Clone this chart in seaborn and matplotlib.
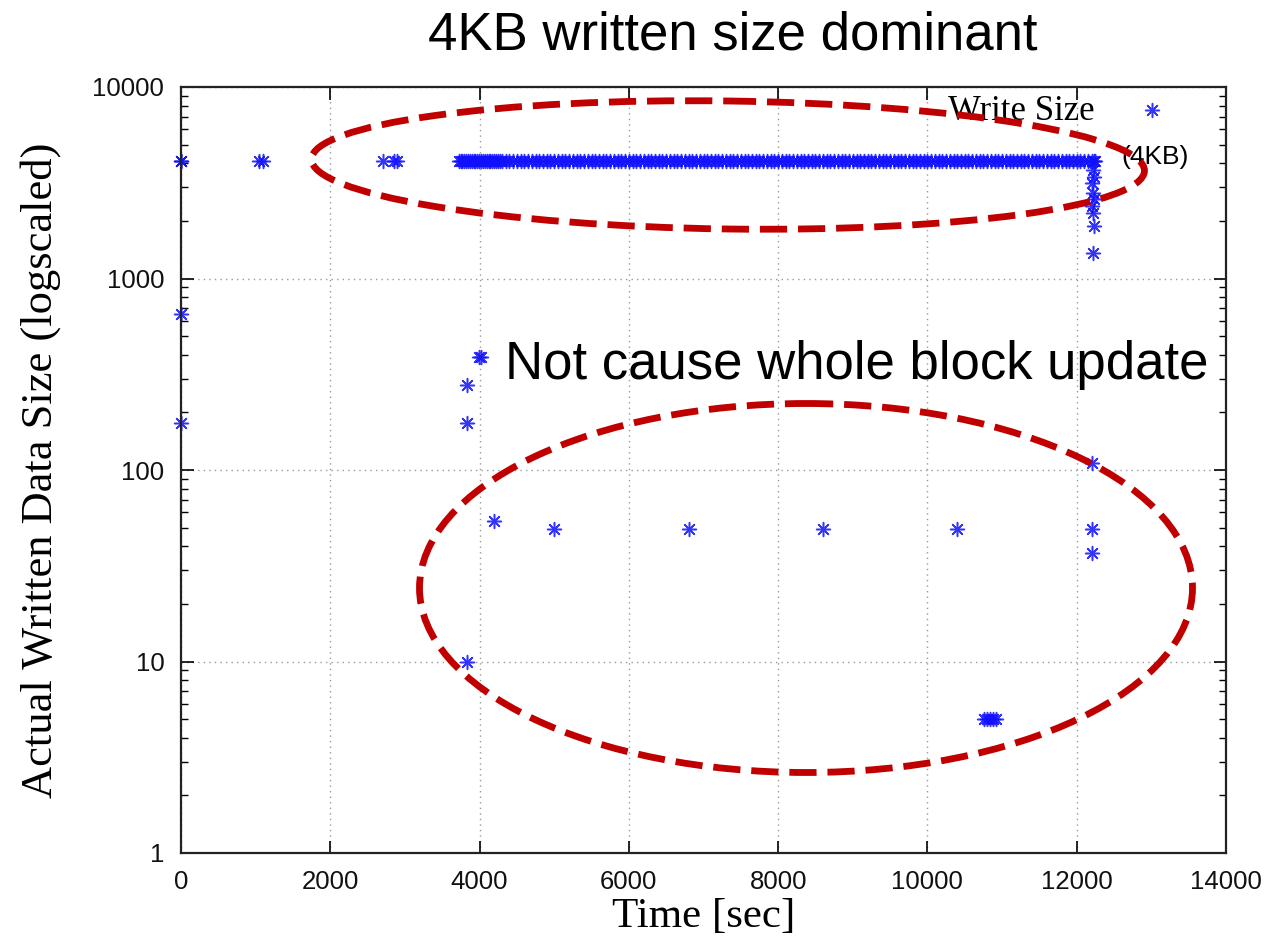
import matplotlib
matplotlib.use("Agg")
import matplotlib.pyplot as plt
from matplotlib.patches import Ellipse
import seaborn as sns
import pandas as pd

# writes of exactly one 4KB block
time_4kb = [0, 0, 1050, 1100, 2700, 2860, 2900,
            3720, 3745, 3770, 3795, 3820, 3845, 3870, 3895, 3920, 3945, 3970, 3995,
            4020, 4045, 4070, 4095, 4120, 4145, 4170, 4195, 4220, 4245, 4270,
            4300, 4350, 4400, 4450, 4500, 4550, 4600, 4650, 4700, 4750, 4800,
            4850, 4900, 4950, 5000, 5050, 5100, 5150, 5200, 5250, 5300, 5350,
            5400, 5450, 5500, 5550, 5600, 5650, 5700, 5750, 5800, 5850, 5900,
            5950, 6000, 6050, 6100, 6150, 6200, 6250, 6300, 6350, 6400, 6450,
            6500, 6550, 6600, 6650, 6700, 6750, 6800, 6850, 6900, 6950, 7000,
            7050, 7100, 7150, 7200, 7250, 7300, 7350, 7400, 7450, 7500, 7550,
            7600, 7650, 7700, 7750, 7800, 7850, 7900, 7950, 8000, 8050, 8100,
            8150, 8200, 8250, 8300, 8350, 8400, 8450, 8500, 8550, 8600, 8650,
            8700, 8750, 8800, 8850, 8900, 8950, 9000, 9050, 9100, 9150, 9200,
            9250, 9300, 9350, 9400, 9450, 9500, 9550, 9600, 9650, 9700, 9750,
            9800, 9850, 9900, 9950, 10000, 10050, 10100, 10150, 10200, 10250,
            10300, 10350, 10400, 10450, 10500, 10550, 10600, 10650, 10700, 10750,
            10800, 10850, 10900, 10950, 11000, 11050, 11100, 11150, 11200, 11250,
            11300, 11350, 11400, 11450, 11500, 11550, 11600, 11650, 11700, 11750,
            11800, 11850, 11900, 11950, 12000, 12050, 12100, 12150, 12200, 12230,
            12250]
size_4kb = [4096] * len(time_4kb)

# all other write sizes
time_other = [0, 0, 3825, 3825, 3825, 3990, 4020, 4190,
              5000, 6800, 8600, 10400,
              12200, 12200, 12210,
              12220, 12230, 12210, 12220, 12230, 12210, 12220, 12230, 12220,
              10760, 10800, 10840, 10880, 10915]
size_other = [650, 176, 278, 176, 10, 390, 390, 54,
              49, 49, 49, 49,
              109, 49, 37,
              3700, 3400, 3150, 2800, 2600, 2400, 2200, 1880, 1360,
              5, 5, 5, 5, 5]

x_ticks = [0, 2000, 4000, 6000, 8000, 10000, 12000, 14000]
y_ticks = [1, 10, 100, 1000, 10000]
y_tick_labels = ["1", "10", "100", "1000", "10000"]

df = pd.DataFrame({
    "time": time_4kb + time_other,
    "size": size_4kb + size_other,
})

W, H = 1272, 942
sns.set_style("ticks")
plt.rcParams["font.family"] = ["Liberation Sans", "DejaVu Sans"]
plt.rcParams["text.color"] = "black"
plt.rcParams["axes.labelcolor"] = "black"

fig = plt.figure(figsize=(W / 100, H / 100), dpi=100)
ax = fig.add_axes([181 / W, 1 - 853 / H, (1226 - 181) / W, (853 - 87) / H])

sns.scatterplot(data=df, x="time", y="size", ax=ax, marker=(8, 2, 0),
                color="#1010ff", s=100, linewidth=1.1, alpha=0.85,
                clip_on=False, label="Write Size", legend=False)

ax.set_yscale("log")
ax.set_xlim(0, 14000)
ax.set_ylim(1, 10000)
ax.set_xticks(x_ticks)
ax.set_xticklabels([str(t) for t in x_ticks])
ax.set_yticks(y_ticks)
ax.set_yticklabels(y_tick_labels)
ax.minorticks_on()
ax.xaxis.set_minor_locator(matplotlib.ticker.NullLocator())

ax.grid(True, which="major", linestyle=(0, (1, 3)), color="#999999", linewidth=1.0)
ax.tick_params(which="both", direction="in", top=True, right=True, colors="black")
ax.tick_params(which="major", length=9, width=1.2, labelsize=18.5, pad=12, labelcolor="#111111")
ax.tick_params(which="minor", length=5, width=1.0)
for sp in ax.spines.values():
    sp.set_linewidth(1.6)
    sp.set_color("#222222")

ax.set_xlabel("Time [sec]", fontdict={"family": ["Liberation Serif", "DejaVu Serif"], "size": 31})
ax.set_ylabel("Actual Written Data Size (logscaled)",
              fontdict={"family": ["Liberation Serif", "DejaVu Serif"], "size": 32})
ax.xaxis.set_label_coords(0.5, -0.058)
ax.yaxis.set_label_coords(-0.115, 0.5)

ax.legend(loc="center right", bbox_to_anchor=(1187 / W, 1 - 111 / H),
          bbox_transform=fig.transFigure, frameon=False, markerfirst=False,
          scatterpoints=1, borderpad=0, borderaxespad=0, handletextpad=0.67,
          prop={"family": ["Liberation Serif", "DejaVu Serif"], "size": 25})

# annotation layer in pixel coordinates
ov = fig.add_axes([0, 0, 1, 1], zorder=5)
ov.set_xlim(0, W)
ov.set_ylim(H, 0)
ov.axis("off")
ov.patch.set_alpha(0)

fig.text(733 / W, 1 - 35 / H, "4KB written size dominant", ha="center", va="center",
         fontsize=38, family=["Liberation Sans", "DejaVu Sans"])
ov.text(505, 365, "Not cause whole block update", ha="left", va="center",
        fontsize=38, family=["Liberation Sans", "DejaVu Sans"], zorder=1)
ov.text(1155, 157, "(4KB)", ha="center", va="center", fontsize=19,
        family=["Liberation Sans", "DejaVu Sans"], zorder=1)

dash = (0, (4.0, 1.6))
ov.add_patch(Ellipse((728, 165), 833, 128, angle=0.8, fill=False, edgecolor="#c00000",
                     linewidth=4.9, linestyle=dash, capstyle="butt", zorder=3))
ov.add_patch(Ellipse((806, 588), 773, 369, angle=0, fill=False, edgecolor="#c00000",
                     linewidth=4.9, linestyle=dash, capstyle="butt", zorder=3))

fig.savefig("out.png", dpi=100)
